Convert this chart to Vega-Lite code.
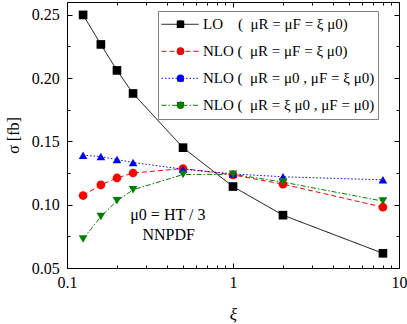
{
  "$schema": "https://vega.github.io/schema/vega-lite/v6.json",
  "width": 332,
  "height": 266,
  "autosize": {"type": "none"},
  "padding": {"left": 67, "top": 2, "right": 8, "bottom": 56},
  "background": "white",
  "config": {
    "view": {"stroke": "black", "strokeWidth": 1},
    "font": "Liberation Serif",
    "axis": {
      "domain": false, "grid": false,
      "labelFont": "Liberation Serif", "titleFont": "Liberation Serif",
      "labelColor": "black", "titleColor": "black", "tickColor": "black",
      "labelFontSize": 16, "titleFontSize": 16, "titleFontWeight": "normal", "tickWidth": 1
    },
    "legend": {"labelFont": "Liberation Serif", "labelColor": "black"}
  },
  "data": {"values": [
    {"series": "LO\u00a0\u00a0\u00a0\u00a0(\u2002μR = μF = ξ μ0)", "xi": 0.125, "sigma": 0.2498},
    {"series": "LO\u00a0\u00a0\u00a0\u00a0(\u2002μR = μF = ξ μ0)", "xi": 0.16, "sigma": 0.2265},
    {"series": "LO\u00a0\u00a0\u00a0\u00a0(\u2002μR = μF = ξ μ0)", "xi": 0.2, "sigma": 0.206},
    {"series": "LO\u00a0\u00a0\u00a0\u00a0(\u2002μR = μF = ξ μ0)", "xi": 0.25, "sigma": 0.1878},
    {"series": "LO\u00a0\u00a0\u00a0\u00a0(\u2002μR = μF = ξ μ0)", "xi": 0.5, "sigma": 0.145},
    {"series": "LO\u00a0\u00a0\u00a0\u00a0(\u2002μR = μF = ξ μ0)", "xi": 1, "sigma": 0.1143},
    {"series": "LO\u00a0\u00a0\u00a0\u00a0(\u2002μR = μF = ξ μ0)", "xi": 2, "sigma": 0.0917},
    {"series": "LO\u00a0\u00a0\u00a0\u00a0(\u2002μR = μF = ξ μ0)", "xi": 8, "sigma": 0.0616},
    {"series": "NLO\u00a0(\u2002μR = μF = ξ μ0)", "xi": 0.125, "sigma": 0.1072},
    {"series": "NLO\u00a0(\u2002μR = μF = ξ μ0)", "xi": 0.16, "sigma": 0.1156},
    {"series": "NLO\u00a0(\u2002μR = μF = ξ μ0)", "xi": 0.2, "sigma": 0.1211},
    {"series": "NLO\u00a0(\u2002μR = μF = ξ μ0)", "xi": 0.25, "sigma": 0.125},
    {"series": "NLO\u00a0(\u2002μR = μF = ξ μ0)", "xi": 0.5, "sigma": 0.1285},
    {"series": "NLO\u00a0(\u2002μR = μF = ξ μ0)", "xi": 1, "sigma": 0.1235},
    {"series": "NLO\u00a0(\u2002μR = μF = ξ μ0)", "xi": 2, "sigma": 0.1162},
    {"series": "NLO\u00a0(\u2002μR = μF = ξ μ0)", "xi": 8, "sigma": 0.098},
    {"series": "NLO\u00a0(\u2002μR = μ0 , μF = ξ μ0)", "xi": 0.125, "sigma": 0.139},
    {"series": "NLO\u00a0(\u2002μR = μ0 , μF = ξ μ0)", "xi": 0.16, "sigma": 0.138},
    {"series": "NLO\u00a0(\u2002μR = μ0 , μF = ξ μ0)", "xi": 0.2, "sigma": 0.1356},
    {"series": "NLO\u00a0(\u2002μR = μ0 , μF = ξ μ0)", "xi": 0.25, "sigma": 0.1333},
    {"series": "NLO\u00a0(\u2002μR = μ0 , μF = ξ μ0)", "xi": 0.5, "sigma": 0.128},
    {"series": "NLO\u00a0(\u2002μR = μ0 , μF = ξ μ0)", "xi": 1, "sigma": 0.1243},
    {"series": "NLO\u00a0(\u2002μR = μ0 , μF = ξ μ0)", "xi": 2, "sigma": 0.122},
    {"series": "NLO\u00a0(\u2002μR = μ0 , μF = ξ μ0)", "xi": 8, "sigma": 0.1196},
    {"series": "NLO\u00a0(\u2002μR = ξ μ0 , μF = μ0)", "xi": 0.125, "sigma": 0.0729},
    {"series": "NLO\u00a0(\u2002μR = ξ μ0 , μF = μ0)", "xi": 0.16, "sigma": 0.0906},
    {"series": "NLO\u00a0(\u2002μR = ξ μ0 , μF = μ0)", "xi": 0.2, "sigma": 0.103},
    {"series": "NLO\u00a0(\u2002μR = ξ μ0 , μF = μ0)", "xi": 0.25, "sigma": 0.1117},
    {"series": "NLO\u00a0(\u2002μR = ξ μ0 , μF = μ0)", "xi": 0.5, "sigma": 0.1238},
    {"series": "NLO\u00a0(\u2002μR = ξ μ0 , μF = μ0)", "xi": 1, "sigma": 0.124},
    {"series": "NLO\u00a0(\u2002μR = ξ μ0 , μF = μ0)", "xi": 2, "sigma": 0.1178},
    {"series": "NLO\u00a0(\u2002μR = ξ μ0 , μF = μ0)", "xi": 8, "sigma": 0.1028}
  ]},
  "layer": [
    {
      "mark": {"type": "line", "strokeWidth": 1},
      "encoding": {
        "x": {"field": "xi", "type": "quantitative",
          "scale": {"type": "log", "domain": [0.1, 10], "nice": false},
          "axis": {"orient": "bottom", "values": [0.1, 1, 10], "format": "~g", "labelFlush": false, "tickSize": -5, "labelPadding": 11, "title": "ξ", "titleFontStyle": "italic", "titleFontSize": 17, "titlePadding": 16}},
        "y": {"field": "sigma", "type": "quantitative",
          "scale": {"domain": [0.05, 0.26], "nice": false, "zero": false},
          "axis": {"orient": "left", "values": [0.05, 0.1, 0.15, 0.2, 0.25], "format": ".2f", "labelFlush": false, "tickSize": -5, "labelPadding": 12.7, "title": "σ [fb]", "titlePadding": 10}},
        "color": {"field": "series", "type": "nominal",
          "scale": {"domain": [
            "LO\u00a0\u00a0\u00a0\u00a0(\u2002μR = μF = ξ μ0)",
            "NLO\u00a0(\u2002μR = μF = ξ μ0)",
            "NLO\u00a0(\u2002μR = μ0 , μF = ξ μ0)",
            "NLO\u00a0(\u2002μR = ξ μ0 , μF = μ0)"],
            "range": ["#000000", "#ff0000", "#0000ff", "#008000"]},
          "legend": {"orient": "none", "legendX": 91, "legendY": 9, "title": null, "padding": 3,
            "symbolType": "stroke", "symbolSize": 1369, "symbolStrokeWidth": 1,
            "clipHeight": 20.6, "rowPadding": 6, "labelOffset": 4, "labelFontSize": 15, "labelLimit": 400,
            "strokeColor": "#808080", "fillColor": null}},
        "strokeDash": {"field": "series", "type": "nominal",
          "scale": {"domain": [
            "LO\u00a0\u00a0\u00a0\u00a0(\u2002μR = μF = ξ μ0)",
            "NLO\u00a0(\u2002μR = μF = ξ μ0)",
            "NLO\u00a0(\u2002μR = μ0 , μF = ξ μ0)",
            "NLO\u00a0(\u2002μR = ξ μ0 , μF = μ0)"],
            "range": [[1, 0], [5, 3], [1.5, 2], [5, 2, 1.5, 2]]},
          "legend": {"orient": "none", "legendX": 91, "legendY": 9, "title": null, "padding": 3,
            "symbolType": "stroke", "symbolSize": 1369, "symbolStrokeWidth": 1,
            "clipHeight": 20.6, "rowPadding": 6, "labelOffset": 4, "labelFontSize": 15, "labelLimit": 400,
            "strokeColor": "#808080", "fillColor": null}}
      }
    },
    {
      "mark": {"type": "point", "filled": true, "opacity": 1, "size": 75, "strokeWidth": 0},
      "encoding": {
        "x": {"field": "xi", "type": "quantitative",
          "axis": {"orient": "top", "values": [0.1, 1, 10], "tickSize": -5, "labels": false, "title": null}},
        "y": {"field": "sigma", "type": "quantitative",
          "axis": {"orient": "right", "values": [0.05, 0.1, 0.15, 0.2, 0.25], "tickSize": -5, "labels": false, "title": null}},
        "fill": {"field": "series", "type": "nominal",
          "sort": [
            "LO\u00a0\u00a0\u00a0\u00a0(\u2002μR = μF = ξ μ0)",
            "NLO\u00a0(\u2002μR = μF = ξ μ0)",
            "NLO\u00a0(\u2002μR = μ0 , μF = ξ μ0)",
            "NLO\u00a0(\u2002μR = ξ μ0 , μF = μ0)"],
          "scale": {"range": ["#000000", "#ff0000", "#0000ff", "#008000"]},
          "legend": {"orient": "none", "legendX": 108.5, "legendY": 12, "title": null, "padding": 0,
            "symbolSize": 55, "symbolStrokeWidth": 0, "clipHeight": 20.6, "rowPadding": 6,
            "labelOffset": 0, "labelExpr": "''"}},
        "shape": {"field": "series", "type": "nominal",
          "sort": [
            "LO\u00a0\u00a0\u00a0\u00a0(\u2002μR = μF = ξ μ0)",
            "NLO\u00a0(\u2002μR = μF = ξ μ0)",
            "NLO\u00a0(\u2002μR = μ0 , μF = ξ μ0)",
            "NLO\u00a0(\u2002μR = ξ μ0 , μF = μ0)"],
          "scale": {"range": ["square", "circle", "triangle-up", "triangle-down"]},
          "legend": {"orient": "none", "legendX": 108.5, "legendY": 12, "title": null, "padding": 0,
            "symbolSize": 55, "symbolStrokeWidth": 0, "clipHeight": 20.6, "rowPadding": 6,
            "labelOffset": 0, "labelExpr": "''"}}
      }
    },
    {
      "data": {"values": [{"note": "μ0 = HT / 3"}]},
      "mark": {"type": "text", "font": "Liberation Serif", "fontSize": 16, "color": "black", "baseline": "middle", "align": "center"},
      "encoding": {
        "x": {"datum": 0.405, "type": "quantitative",
          "axis": {"orient": "bottom", "values": [0.2, 0.3, 0.4, 0.5, 0.6, 0.7, 0.8, 0.9, 2, 3, 4, 5, 6, 7, 8, 9], "tickSize": -3, "labels": false, "title": null}},
        "y": {"datum": 0.0921, "type": "quantitative",
          "axis": {"orient": "left", "values": [0.075, 0.125, 0.175, 0.225], "tickSize": -3, "labels": false, "title": null}},
        "text": {"field": "note"}
      }
    },
    {
      "data": {"values": [{"note": "NNPDF"}]},
      "mark": {"type": "text", "font": "Liberation Serif", "fontSize": 16, "color": "black", "baseline": "middle", "align": "center"},
      "encoding": {
        "x": {"datum": 0.41, "type": "quantitative",
          "axis": {"orient": "top", "values": [0.2, 0.3, 0.4, 0.5, 0.6, 0.7, 0.8, 0.9, 2, 3, 4, 5, 6, 7, 8, 9], "tickSize": -3, "labels": false, "title": null}},
        "y": {"datum": 0.0763, "type": "quantitative",
          "axis": {"orient": "right", "values": [0.075, 0.125, 0.175, 0.225], "tickSize": -3, "labels": false, "title": null}},
        "text": {"field": "note"}
      }
    }
  ],
  "resolve": {"axis": {"x": "independent", "y": "independent"}}
}
